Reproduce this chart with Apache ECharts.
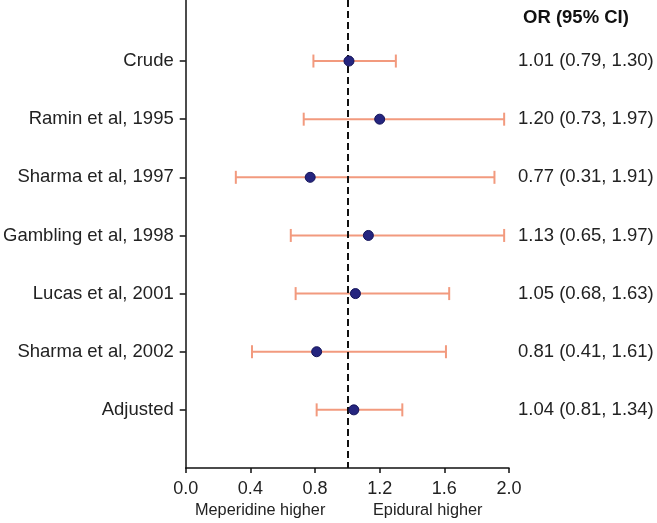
<!DOCTYPE html>
<html><head><meta charset="utf-8">
<script src="https://cdn.jsdelivr.net/npm/echarts@6/dist/echarts.min.js"></script>
<style>html,body{margin:0;padding:0;background:#fff}#c{width:657px;height:523px}</style>
</head><body><div id="c"></div>
<script>
const studies = ['Crude','Ramin et al, 1995','Sharma et al, 1997','Gambling et al, 1998','Lucas et al, 2001','Sharma et al, 2002','Adjusted'];
const orValues = [1.01, 1.20, 0.77, 1.13, 1.05, 0.81, 1.04];
const ciLower  = [0.79, 0.73, 0.31, 0.65, 0.68, 0.41, 0.81];
const ciUpper  = [1.30, 1.97, 1.91, 1.97, 1.63, 1.61, 1.34];
const xTicks = [0.0, 0.4, 0.8, 1.2, 1.6, 2.0];
const rowPos = studies.map((s, i) => i + 1);

const FONT = 'Liberation Sans';
const fmt = v => v.toFixed(2);
const ciText = studies.map((s, i) => `${fmt(orValues[i])} (${fmt(ciLower[i])}, ${fmt(ciUpper[i])})`);

const chart = echarts.init(document.getElementById('c'), null, {renderer: 'canvas'});
chart.setOption({
  animation: false,
  backgroundColor: '#fff',
  textStyle: {fontFamily: FONT},
  grid: {left: 184, right: 148, top: 0, bottom: 55, containLabel: false},
  title: {
    text: 'OR (95% CI)', left: 518, top: 3,
    textStyle: {fontFamily: FONT, fontSize: 18.5, fontWeight: 'bold', color: '#111'}
  },
  xAxis: {
    type: 'value', min: 0, max: 2, interval: 0.4, position: 'bottom',
    axisLine: {show: true, onZero: false, lineStyle: {color: '#111', width: 1.5}},
    axisTick: {show: true, length: 5, lineStyle: {color: '#111', width: 1.5}, customValues: xTicks},
    axisLabel: {fontSize: 18, color: '#222', margin: 12, fontFamily: FONT,
      customValues: xTicks, formatter: v => Number(v).toFixed(1)},
    splitLine: {show: false}
  },
  yAxis: [{
    type: 'value', min: -0.05, max: 8, inverse: true,
    axisLine: {show: true, onZero: false, lineStyle: {color: '#111', width: 1.5}},
    axisTick: {show: true, length: 6, lineStyle: {color: '#111', width: 1.5}, customValues: rowPos},
    axisLabel: {fontSize: 18.5, color: '#222', margin: 12, fontFamily: FONT,
      customValues: rowPos, formatter: v => studies[Math.round(v) - 1] || ''},
    splitLine: {show: false}
  }, {
    type: 'value', min: -0.05, max: 8, inverse: true, position: 'right',
    axisLine: {show: false, onZero: false}, axisTick: {show: false},
    axisLabel: {fontSize: 18.5, color: '#222', margin: 9, fontFamily: FONT, align: 'left',
      customValues: rowPos, formatter: v => ciText[Math.round(v) - 1] || ''},
    splitLine: {show: false}
  }],
  graphic: [
    {type: 'text', left: 195, top: 503, style: {text: 'Meperidine higher', font: '16.3px "Liberation Sans"', fill: '#222'}},
    {type: 'text', left: 373, top: 503, style: {text: 'Epidural higher', font: '16.3px "Liberation Sans"', fill: '#222'}}
  ],
  series: [{
    type: 'custom',
    data: studies.map((s, i) => [rowPos[i], ciLower[i], ciUpper[i]]),
    encode: {x: [1, 2], y: 0},
    renderItem: (params, api) => {
      const y = api.value(0);
      const a = api.coord([api.value(1), y]);
      const b = api.coord([api.value(2), y]);
      const h = 6.5;
      const st = {stroke: '#f29a7e', lineWidth: 2};
      return {type: 'group', children: [
        {type: 'line', shape: {x1: a[0], y1: a[1], x2: b[0], y2: b[1]}, style: st},
        {type: 'line', shape: {x1: a[0], y1: a[1] - h, x2: a[0], y2: a[1] + h}, style: st},
        {type: 'line', shape: {x1: b[0], y1: b[1] - h, x2: b[0], y2: b[1] + h}, style: st}
      ]};
    },
    z: 2
  }, {
    type: 'scatter',
    data: studies.map((s, i) => [orValues[i], rowPos[i]]),
    symbolSize: 10,
    itemStyle: {color: '#25257f', borderColor: '#14145a', borderWidth: 1, opacity: 1},
    z: 4,
    markLine: {
      silent: true, symbol: 'none', label: {show: false},
      lineStyle: {color: '#111', type: [7, 4], width: 2},
      data: [{xAxis: 1}],
      z: 3
    }
  }]
});
</script></body></html>
